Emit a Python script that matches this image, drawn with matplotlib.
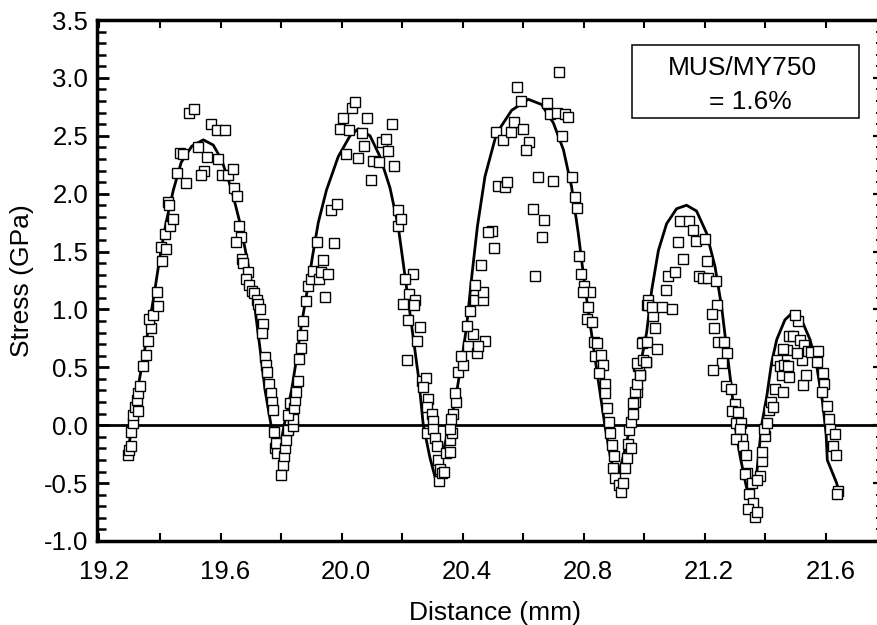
import matplotlib
matplotlib.use('Agg')
import matplotlib.pyplot as plt
from matplotlib.ticker import MultipleLocator, FormatStrFormatter
from matplotlib.patches import Rectangle
from matplotlib.transforms import ScaledTranslation

plt.rcParams['font.family'] = ['Liberation Sans', 'DejaVu Sans']
plt.rcParams['axes.unicode_minus'] = False

# medidas (pontos quadrados)
dist_mm = [
    # arco 1 e subida do arco 2
    19.295, 19.298, 19.303, 19.303, 19.31, 19.312, 19.317, 19.328, 19.323, 19.328,
    19.334, 19.343, 19.354, 19.359, 19.369, 19.365, 19.378, 19.394, 19.389, 19.405,
    19.402, 19.42, 19.416, 19.433, 19.444, 19.427, 19.431, 19.455, 19.486, 19.466,
    19.477, 19.497, 19.513, 19.526, 19.554, 19.545, 19.535, 19.57, 19.587, 19.615,
    19.593, 19.604, 19.626, 19.64, 19.644, 19.653, 19.662, 19.666, 19.651, 19.67,
    19.675, 19.692, 19.684, 19.695, 19.703, 19.71, 19.719, 19.725, 19.73, 19.739,
    19.736, 19.747, 19.75, 19.755, 19.761, 19.766, 19.769, 19.774, 19.776, 19.78,
    19.785, 19.783, 19.805, 19.80, 19.81, 19.813, 19.818, 19.824, 19.838, 19.838,
    19.824, 19.83, 19.843, 19.846, 19.851, 19.855, 19.86, 19.865, 19.868, 19.873,
    19.881, 19.89, 19.898, 19.907, 19.926, 19.931, 19.937, 19.954, 19.945, 19.92,
    19.975, 19.964, 19.984, 20.014, 19.995, 20.006, 20.036, 20.044, 20.025, 20.055,
    20.066, 20.075, 20.085, 20.096, 20.105, 20.125, 20.132, 20.147, 20.154, 20.165,
    20.174, 20.187, 20.187,
    # descida do arco 2 e arco 3
    20.195, 20.235, 20.21, 20.224, 20.243, 20.204, 20.239, 20.22, 20.259, 20.25,
    20.215, 20.265, 20.279, 20.27, 20.287, 20.281, 20.298, 20.301, 20.283, 20.303,
    20.309, 20.314, 20.32, 20.325, 20.323, 20.331, 20.338, 20.345, 20.358, 20.358,
    20.364, 20.358, 20.369, 20.36, 20.378, 20.375, 20.386, 20.402, 20.393, 20.419,
    20.448, 20.474, 20.452, 20.435, 20.416, 20.424, 20.441, 20.466, 20.468, 20.441,
    20.46, 20.504, 20.496, 20.485, 20.518, 20.54, 20.548, 20.51, 20.532, 20.559,
    20.57, 20.601, 20.62, 20.609, 20.581, 20.592, 20.719, 20.678, 20.69, 20.711,
    20.738, 20.749, 20.73, 20.65, 20.70, 20.76, 20.631, 20.669, 20.661, 20.639,
    20.771, 20.777, 20.786, 20.79, 20.801, 20.821, 20.797, 20.815, 20.81, 20.826,
    20.834, 20.843, 20.837, 20.856, 20.865, 20.852, 20.87, 20.87, 20.876, 20.885,
    20.887, 20.892, 20.90, 20.896, 20.903, 20.918, 20.925, 20.931, 20.936, 20.942,
    20.947, 20.958, 20.951, 20.958, 20.964, 20.969, 20.975, 20.986, 20.98, 21.006,
    20.997, 21.008, 21.014,
    # arcos 4 e 5
    20.964, 20.97, 20.975, 20.986, 20.984, 20.977, 20.997, 21.006, 20.992, 21.008,
    21.043, 21.036, 21.03, 21.014, 21.025, 21.058, 21.091, 21.072, 21.08, 21.102,
    21.129, 21.113, 21.118, 21.149, 21.162, 21.171, 21.201, 21.206, 21.182, 21.195,
    21.212, 21.237, 21.24, 21.223, 21.231, 21.245, 21.264, 21.275, 21.256, 21.226,
    21.27, 21.286, 21.30, 21.289, 21.311, 21.303, 21.319, 21.317, 21.322, 21.303,
    21.328, 21.336, 21.341, 21.333, 21.355, 21.347, 21.361, 21.344, 21.366, 21.372,
    21.383, 21.374, 21.388, 21.388, 21.399, 21.396, 21.405, 21.413, 21.418, 21.427,
    21.432, 21.44, 21.454, 21.46, 21.449, 21.462, 21.48, 21.476, 21.471, 21.458,
    21.48, 21.493, 21.509, 21.498, 21.515, 21.528, 21.52, 21.504, 21.526, 21.542,
    21.535, 21.55, 21.575, 21.57, 21.59, 21.594, 21.586, 21.605, 21.612, 21.614,
    21.63, 21.625, 21.634, 21.641, 21.638,
]
stress_gpa = [
    -0.26, -0.21, -0.18, -0.06, 0.02, 0.09, 0.16, 0.12, 0.22, 0.28,
    0.34, 0.51, 0.61, 0.73, 0.84, 0.92, 0.95, 1.03, 1.15, 1.42,
    1.54, 1.52, 1.65, 1.72, 1.78, 1.93, 1.90, 2.18, 2.09, 2.35,
    2.34, 2.70, 2.73, 2.40, 2.32, 2.20, 2.16, 2.60, 2.55, 2.55,
    2.30, 2.16, 2.16, 2.21, 2.05, 1.98, 1.72, 1.63, 1.58, 1.44,
    1.40, 1.32, 1.26, 1.21, 1.16, 1.14, 1.08, 1.05, 1.00, 0.87,
    0.80, 0.59, 0.52, 0.46, 0.36, 0.28, 0.20, 0.13, -0.06, -0.20,
    -0.24, -0.15, -0.34, -0.43, -0.27, -0.20, -0.13, -0.04, -0.01, 0.05,
    0.09, 0.19, 0.15, 0.22, 0.29, 0.38, 0.57, 0.67, 0.78, 0.90,
    1.07, 1.20, 1.26, 1.33, 1.26, 1.32, 1.43, 1.31, 1.11, 1.58,
    1.57, 1.86, 1.91, 2.34, 2.56, 2.65, 2.74, 2.79, 2.55, 2.31,
    2.52, 2.41, 2.65, 2.12, 2.28, 2.27, 2.45, 2.47, 2.37, 2.60,
    2.24, 1.86, 1.72,
    1.78, 1.31, 1.26, 1.13, 1.08, 1.05, 1.04, 0.91, 0.85, 0.73,
    0.56, 0.38, 0.41, 0.33, 0.23, 0.16, 0.10, 0.04, -0.07, -0.03,
    -0.11, -0.18, -0.30, -0.38, -0.48, -0.41, -0.40, -0.24, -0.23, -0.13,
    -0.07, -0.03, 0.10, 0.05, 0.20, 0.28, 0.46, 0.52, 0.60, 0.68,
    0.62, 0.73, 0.68, 0.79, 0.86, 0.99, 1.08, 1.08, 1.15, 1.21,
    1.38, 1.53, 1.68, 1.67, 2.07, 2.06, 2.10, 2.53, 2.46, 2.53,
    2.62, 2.56, 2.45, 2.38, 2.92, 2.80, 3.05, 2.78, 2.69, 2.70,
    2.69, 2.66, 2.50, 2.14, 2.11, 2.14, 1.87, 1.77, 1.63, 1.29,
    1.97, 1.88, 1.46, 1.31, 1.20, 1.15, 1.15, 1.02, 0.92, 0.89,
    0.72, 0.71, 0.60, 0.61, 0.52, 0.45, 0.36, 0.28, 0.15, 0.03,
    -0.07, -0.17, -0.27, -0.37, -0.46, -0.52, -0.58, -0.50, -0.37, -0.28,
    -0.16, -0.20, -0.04, 0.03, 0.10, 0.20, 0.29, 0.43, 0.51, 0.55,
    0.72, 1.04, 1.08,
    0.19, 0.29, 0.36, 0.43, 0.52, 0.54, 0.56, 0.55, 0.71, 0.72,
    0.66, 0.84, 0.94, 1.04, 1.02, 1.02, 1.00, 1.17, 1.29, 1.32,
    1.44, 1.58, 1.76, 1.76, 1.69, 1.59, 1.61, 1.42, 1.29, 1.27,
    1.27, 1.25, 1.04, 0.96, 0.84, 0.72, 0.72, 0.62, 0.54, 0.48,
    0.34, 0.31, 0.18, 0.12, 0.11, 0.02, 0.02, -0.03, -0.12, -0.12,
    -0.18, -0.26, -0.41, -0.42, -0.50, -0.59, -0.67, -0.72, -0.79, -0.75,
    -0.44, -0.47, -0.31, -0.23, -0.09, -0.03, 0.02, 0.13, 0.20, 0.16,
    0.31, 0.56, 0.43, 0.29, 0.51, 0.52, 0.42, 0.51, 0.65, 0.66,
    0.77, 0.77, 0.90, 0.95, 0.74, 0.69, 0.56, 0.62, 0.35, 0.64,
    0.43, 0.63, 0.64, 0.55, 0.45, 0.36, 0.29, 0.17, 0.05, -0.03,
    -0.08, -0.18, -0.26, -0.57, -0.59,
]

# curva ajustada (linha continua)
fit_x = [
    19.295, 19.31, 19.326, 19.345, 19.365, 19.383, 19.40, 19.42, 19.444, 19.47,
    19.505, 19.543, 19.576, 19.604, 19.637, 19.664, 19.686, 19.706, 19.72, 19.734,
    19.747, 19.767, 19.78, 19.795, 19.81, 19.835, 19.852, 19.868, 19.887, 19.904,
    19.923, 19.95, 19.989, 20.028, 20.055, 20.094, 20.127, 20.16, 20.187, 20.21,
    20.232, 20.254, 20.27, 20.292, 20.314, 20.328, 20.342, 20.358, 20.38, 20.397,
    20.413, 20.43, 20.449, 20.474, 20.512, 20.562, 20.617, 20.661, 20.70, 20.733,
    20.76, 20.782, 20.804, 20.826, 20.848, 20.87, 20.89, 20.909, 20.93, 20.955,
    20.98, 21.008, 21.025, 21.047, 21.074, 21.107, 21.14, 21.173, 21.206, 21.234,
    21.256, 21.273, 21.289, 21.30, 21.317, 21.335, 21.35, 21.372, 21.388, 21.405,
    21.421, 21.438, 21.465, 21.493, 21.52, 21.548, 21.57, 21.59, 21.601, 21.605,
    21.636, 21.642,
]
fit_y = [
    -0.2, 0.02, 0.305, 0.59, 0.88, 1.17, 1.46, 1.75, 2.03, 2.27,
    2.41, 2.465, 2.42, 2.29, 2.03, 1.75, 1.46, 1.17, 0.88, 0.59,
    0.305, 0.0, -0.2, -0.22, 0.0, 0.305, 0.59, 0.88, 1.17, 1.46,
    1.75, 2.03, 2.32, 2.50, 2.56, 2.50, 2.32, 2.05, 1.72, 1.28,
    0.85, 0.42, 0.0, -0.28, -0.50, -0.35, -0.155, 0.0, 0.28, 0.56,
    0.85, 1.28, 1.72, 2.15, 2.52, 2.72, 2.815, 2.77, 2.61, 2.38,
    2.06, 1.66, 1.20, 0.79, 0.39, 0.0, -0.30, -0.47, -0.28, 0.0,
    0.42, 0.80, 1.17, 1.51, 1.74, 1.87, 1.90, 1.85, 1.66, 1.37,
    1.02, 0.65, 0.31, 0.0, -0.27, -0.50, -0.67, -0.41, 0.0, 0.25,
    0.54, 0.74, 0.91, 0.98, 0.91, 0.74, 0.51, 0.19, -0.07, -0.30,
    -0.50, -0.56,
]

fig = plt.figure(figsize=(8.78, 6.25), dpi=100)
ax = fig.add_axes([0.1101, 0.1344, 0.8921, 0.8336])

ax.axhline(0, color='k', lw=2.0, zorder=1)
ax.plot(fit_x, fit_y, color='k', lw=2.0, zorder=2)
ax.plot(dist_mm, stress_gpa, linestyle='none', marker='s', markersize=6.6,
        markerfacecolor='white', markeredgecolor='k', markeredgewidth=1.0, zorder=3)

ax.set_xlim(19.1907, 21.779)
ax.set_ylim(-1.0, 3.5)

ax.xaxis.set_major_locator(MultipleLocator(0.4))
ax.xaxis.set_minor_locator(MultipleLocator(0.2))
ax.xaxis.set_major_formatter(FormatStrFormatter('%.1f'))
ax.yaxis.set_major_locator(MultipleLocator(0.5))
ax.yaxis.set_minor_locator(MultipleLocator(0.1))
ax.yaxis.set_major_formatter(FormatStrFormatter('%.1f'))

ax.tick_params(axis='x', which='both', direction='in', top=True, bottom=True,
               length=5.8, width=1.5, labelsize=18.5, pad=14)
ax.tick_params(axis='y', which='major', direction='in', left=True, right=False,
               length=8.6, width=2.0, labelsize=18.5, pad=6)
ax.tick_params(axis='y', which='minor', direction='in', left=True, right=False,
               length=6.5, width=1.8)

for lbl in ax.get_xticklabels():
    lbl.set_transform(lbl.get_transform() + ScaledTranslation(0.045, 0, fig.dpi_scale_trans))

for side in ['left', 'bottom', 'top']:
    ax.spines[side].set_linewidth(2.5)
ax.spines['right'].set_visible(False)

# eixo da direita so com os tracinhos
ax2 = ax.twinx()
ax2.set_ylim(-1.0, 3.5)
ax2.yaxis.set_major_locator(MultipleLocator(0.5))
ax2.yaxis.set_minor_locator(MultipleLocator(0.1))
ax2.tick_params(axis='y', which='major', direction='in', length=5, width=1.6, labelright=False)
ax2.tick_params(axis='y', which='minor', direction='in', length=3, width=1.4)
for side in ax2.spines:
    ax2.spines[side].set_visible(False)

ax.set_xlabel('Distance (mm)', fontsize=19)
ax.set_ylabel('Stress (GPa)', fontsize=19)
ax.xaxis.set_label_coords(0.5085, -0.115)
ax.yaxis.set_label_coords(-0.080, 0.5)

ax.add_patch(Rectangle((0.683, 0.812), 0.290, 0.140, transform=ax.transAxes,
                       facecolor='white', edgecolor='k', lw=1.1, zorder=4))
ax.text(0.825, 0.908, 'MUS/MY750', transform=ax.transAxes, fontsize=19,
        ha='center', va='center', zorder=5)
ax.text(0.834, 0.843, '= 1.6%', transform=ax.transAxes, fontsize=19,
        ha='center', va='center', zorder=5)

fig.savefig('out.png', dpi=100)
